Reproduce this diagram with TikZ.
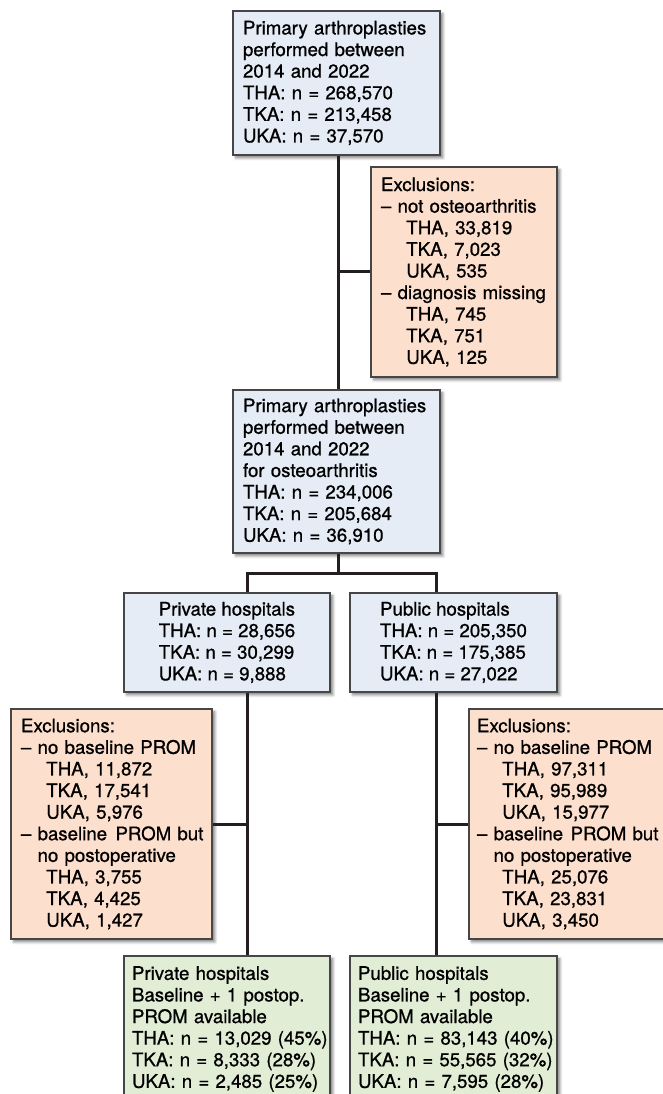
\documentclass[tikz,border=0pt]{standalone}
\usepackage{fontspec}
\setmainfont{TeX Gyre Heros}[BoldFont={TeX Gyre Heros},BoldFeatures={FakeBold=0.9}]
\usetikzlibrary{shadows.blur}
\definecolor{bluebox}{RGB}{229,236,246}
\definecolor{orangebox}{RGB}{253,223,205}
\definecolor{greenbox}{RGB}{226,237,214}
\definecolor{edgecol}{RGB}{70,70,70}
\definecolor{conncol}{RGB}{35,31,32}
\newcommand\ind{\hspace*{19pt}}
\newcommand\dind{\phantom{\textendash\ }}
\begin{document}
\begin{tikzpicture}[x=0.75pt,y=-0.75pt,
  font=\fontsize{14}{16.2}\selectfont\bfseries,
  box/.style={draw=edgecol, line width=0.9pt, align=left, inner xsep=7.5pt, inner ysep=0pt,
    blur shadow={shadow xshift=2.2pt, shadow yshift=-2.2pt, shadow blur steps=6, shadow opacity=50}},
  bluebx/.style={box, fill=bluebox},
  orangebx/.style={box, fill=orangebox},
  greenbx/.style={box, fill=greenbox, inner xsep=6pt},
  conn/.style={draw=conncol, line width=2.25pt, line join=miter}]
\useasboundingbox (0,0) rectangle (662,1094);

\node[bluebx, minimum width=155.25pt, text width=140.25pt, minimum height=108pt] (b1) at (336.5,83)
  {\mbox{Primary arthroplasties}\\performed between\\2014 and 2022\\THA: n = 268,570\\TKA: n = 213,458\\UKA: n = 37,570};

\node[orangebx, minimum width=139.5pt, text width=124.5pt, minimum height=157.5pt] (excl1) at (464,272)
  {Exclusions:\\\mbox{\textendash\ not osteoarthritis}\\\ind THA, 33,819\\\ind TKA, 7,023\\\ind UKA, 535\\\mbox{\textendash\ diagnosis missing}\\\ind THA, 745\\\ind TKA, 751\\\ind UKA, 125};

\node[bluebx, minimum width=155.25pt, text width=140.25pt, minimum height=122.25pt] (b2) at (336.5,471.5)
  {\mbox{Primary arthroplasties}\\performed between\\2014 and 2022\\for osteoarthritis\\THA: n = 234,006\\TKA: n = 205,684\\UKA: n = 36,910};

\node[bluebx, minimum width=154.5pt, minimum height=74.25pt] (priv) at (227,642.5)
  {Private hospitals\\THA: n = 28,656\\TKA: n = 30,299\\UKA: n = 9,888};

\node[bluebx, minimum width=155.25pt, minimum height=74.25pt] (pub) at (453.5,642.5)
  {Public hospitals\\THA: n = 205,350\\TKA: n = 175,385\\UKA: n = 27,022};

\node[orangebx, minimum width=150.75pt, text width=135.75pt, minimum height=172.5pt] (exclL) at (111.5,824)
  {Exclusions:\\\mbox{\textendash\ no baseline PROM}\\\ind THA, 11,872\\\ind TKA, 17,541\\\ind UKA, 5,976\\\mbox{\textendash\ baseline\hspace{0.45em}PROM but}\\\mbox{\dind no postoperative}\\\ind THA, 3,755\\\ind TKA, 4,425\\\ind UKA, 1,427};

\node[orangebx, inner xsep=6pt, minimum width=157.5pt, text width=145.5pt, minimum height=172.5pt] (exclR) at (574,824)
  {Exclusions:\\\mbox{\textendash\ no baseline PROM}\\\ind THA, 97,311\\\ind TKA, 95,989\\\ind UKA, 15,977\\\mbox{\textendash\ baseline\hspace{0.4em}PROM but}\\\mbox{\dind no postoperative}\\\ind THA, 25,076\\\ind TKA, 23,831\\\ind UKA, 3,450};

\node[greenbx, minimum width=154.5pt, text width=142.5pt, minimum height=109.5pt] (gpriv) at (227,1029)
  {Private hospitals\\\mbox{Baseline + 1 postop.}\\PROM available\\\mbox{THA: n = 13,029 (45\%)}\\\mbox{TKA: n = 8,333 (28\%)}\\\mbox{UKA: n = 2,485 (25\%)}};

\node[greenbx, minimum width=155.25pt, text width=143.25pt, minimum height=109.5pt] (gpub) at (453.5,1029)
  {Public hospitals\\\mbox{Baseline + 1 postop.}\\PROM available\\\mbox{THA: n = 83,143 (40\%)}\\\mbox{TKA: n = 55,565 (32\%)}\\\mbox{UKA: n = 7,595 (28\%)}};

\coordinate (split) at (338.5,573);
\coordinate (pj) at (247,573);
\coordinate (uj) at (436,573);

\draw[conn] (b1.south -| split) -- (b2.north -| split);
\draw[conn] (excl1.west -| split) -- (excl1.west);
\draw[conn] (b2.south -| split) -- (split);
\draw[conn] (pj |- priv.north) -- (pj) -- (uj) -- (uj |- pub.north);
\draw[conn] (priv.south -| pj) -- (gpriv.north -| pj);
\draw[conn] (exclL.east) -- (exclL.east -| pj);
\draw[conn] (pub.south -| uj) -- (gpub.north -| uj);
\draw[conn] (exclR.west) -- (exclR.west -| uj);
\end{tikzpicture}
\end{document}
